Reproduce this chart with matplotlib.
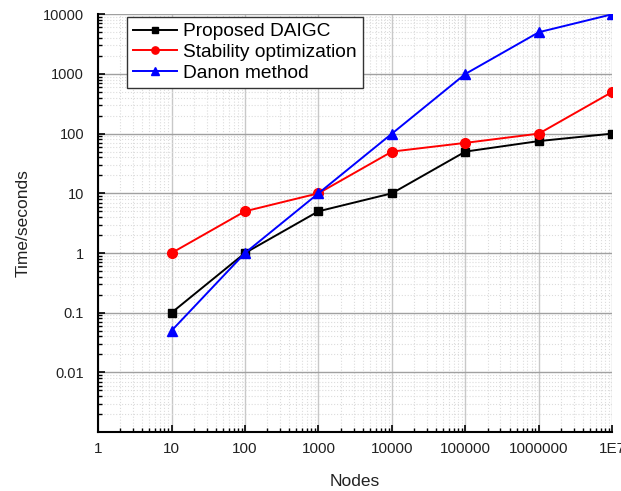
import matplotlib
matplotlib.use("Agg")
import matplotlib.pyplot as plt
from matplotlib.ticker import LogLocator, NullFormatter

plt.rcParams['font.family'] = ['Liberation Sans', 'DejaVu Sans']

# data
nodes = [10, 100, 1000, 10000, 100000, 1000000, 10000000]
daigc = [0.1, 1, 5, 10, 50, 75, 100]
stability = [1, 5, 10, 50, 70, 100, 500]
danon = [0.05, 1, 10, 100, 1000, 5000, 10000]

xticks = [1, 10, 100, 1000, 10000, 100000, 1000000, 10000000]
xlabels = ['1', '10', '100', '1000', '10000', '100000', '1000000', '1E7']
yticks = [0.01, 0.1, 1, 10, 100, 1000, 10000]
ylabels = ['0.01', '0.1', '1', '10', '100', '1000', '10000']

fig = plt.figure(figsize=(6.21, 4.91), dpi=100)
ax = fig.add_axes([0.158, 0.120, 0.828, 0.851])

ax.plot(nodes, daigc, color='black', marker='s', ms=6, lw=1.4, label='Proposed DAIGC', zorder=3)
ax.plot(nodes, stability, color='red', marker='o', ms=7, lw=1.4, label='Stability optimization', zorder=3)
ax.plot(nodes, danon, color='blue', marker='^', ms=7.5, lw=1.4, label='Danon method', zorder=3)

ax.set_xscale('log')
ax.set_yscale('log')
ax.set_xlim(1, 1e7)
ax.set_ylim(0.001, 10000)

ax.set_xticks(xticks)
ax.set_xticklabels(xlabels)
ax.set_yticks(yticks)
ax.set_yticklabels(ylabels)
ax.xaxis.set_minor_locator(LogLocator(base=10, subs=range(2, 10), numticks=20))
ax.yaxis.set_minor_locator(LogLocator(base=10, subs=range(2, 10), numticks=20))
ax.xaxis.set_minor_formatter(NullFormatter())
ax.yaxis.set_minor_formatter(NullFormatter())

# grid: light minor dots, gray majors
ax.grid(which='minor', color='#dcdcdc', ls=':', lw=0.8)
ax.grid(which='major', axis='x', color='#c8c8c8', ls='-', lw=1.0)
ax.grid(which='major', axis='y', color='#a0a0a0', ls='-', lw=1.0)
ax.set_axisbelow(True)

for s in ['top', 'right']:
    ax.spines[s].set_visible(False)
for s in ['left', 'bottom']:
    ax.spines[s].set_linewidth(1.5)

ax.tick_params(which='major', direction='in', length=5, width=1.2, labelcolor='#222222')
ax.tick_params(which='minor', direction='in', length=3, width=1.0)
ax.tick_params(axis='x', which='major', pad=7, labelsize=11)
ax.tick_params(axis='y', which='major', pad=10, labelsize=10.5)

ax.set_xlabel('Nodes', fontsize=12.5, labelpad=13, color='#222222')
ax.set_ylabel('Time/seconds', fontsize=12.5, labelpad=9, color='#222222')

leg = ax.legend(loc='upper left', bbox_to_anchor=(0.056, 0.993), borderaxespad=0,
                fontsize=13.8, fancybox=False, framealpha=1, edgecolor='#333333',
                handlelength=2.3, labelspacing=0.18, borderpad=0.3, handletextpad=0.35,
                markerscale=0.75)
leg.get_frame().set_linewidth(1.0)

fig.savefig('out.png', dpi=100)
